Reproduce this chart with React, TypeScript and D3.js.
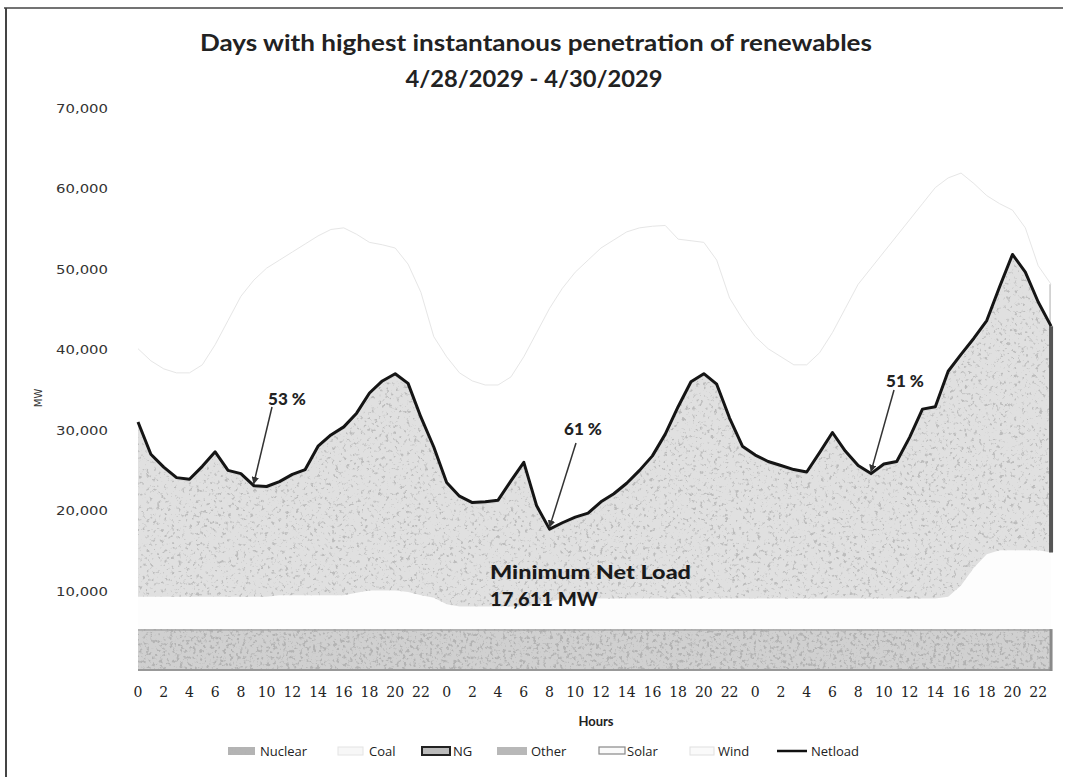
import React from "react";
import * as d3 from "d3";

// ---------- DATA ----------
const hourOfDay = [0, 1, 2, 3, 4, 5, 6, 7, 8, 9, 10, 11, 12, 13, 14, 15, 16, 17, 18, 19, 20, 21, 22, 23];
const days = ["4/28/2029", "4/29/2029", "4/30/2029"];

// Net load (black line), MW
const netloadD1 = [30900, 26900, 25300, 24000, 23800, 25400, 27200, 24900, 24500, 23000, 22900, 23500, 24400, 25000, 27900, 29300, 30300, 32000, 34500, 36000, 36900, 35700, 31500, 27800];
const netloadD2 = [23400, 21700, 20900, 21000, 21200, 23600, 25900, 20500, 17611, 18400, 19100, 19600, 21000, 22000, 23300, 24900, 26700, 29400, 32800, 35900, 36900, 35600, 31400, 27900];
const netloadD3 = [26800, 26000, 25500, 25000, 24700, 27100, 29600, 27300, 25500, 24500, 25700, 26000, 29000, 32500, 32800, 37200, 39300, 41300, 43500, 47700, 51700, 49500, 45800, 42800];

// Nuclear (bottom band)
const nuclearD1 = [5200, 5200, 5200, 5200, 5200, 5200, 5200, 5200, 5200, 5200, 5200, 5200, 5200, 5200, 5200, 5200, 5200, 5200, 5200, 5200, 5200, 5200, 5200, 5200];
const nuclearD2 = [5200, 5200, 5200, 5200, 5200, 5200, 5200, 5200, 5200, 5200, 5200, 5200, 5200, 5200, 5200, 5200, 5200, 5200, 5200, 5200, 5200, 5200, 5200, 5200];
const nuclearD3 = [5200, 5200, 5200, 5200, 5200, 5200, 5200, 5200, 5200, 5200, 5200, 5200, 5200, 5200, 5200, 5200, 5200, 5200, 5200, 5200, 5200, 5200, 5200, 5200];

// Coal (white band above nuclear)
const coalD1 = [4000, 4000, 4000, 4000, 4000, 4000, 4000, 4000, 4000, 4000, 4000, 4200, 4200, 4200, 4200, 4200, 4200, 4500, 4800, 4800, 4800, 4600, 4200, 3900];
const coalD2 = [3100, 2800, 2800, 2800, 2800, 2800, 2800, 3000, 3400, 3800, 3800, 3800, 3800, 3800, 3800, 3800, 3800, 3800, 3800, 3800, 3800, 3800, 3800, 3800];
const coalD3 = [3800, 3800, 3800, 3800, 3800, 3800, 3800, 3800, 3800, 3800, 3800, 3800, 3800, 3800, 3800, 4000, 5400, 7600, 9300, 9800, 9800, 9800, 9800, 9500];

// Other (thin band just under net load)
const otherD1 = [400, 400, 400, 400, 400, 400, 400, 400, 400, 400, 400, 400, 400, 400, 400, 400, 400, 400, 400, 400, 400, 400, 400, 400];
const otherD2 = [400, 400, 400, 400, 400, 400, 400, 400, 400, 400, 400, 400, 400, 400, 400, 400, 400, 400, 400, 400, 400, 400, 400, 400];
const otherD3 = [400, 400, 400, 400, 400, 400, 400, 400, 400, 400, 400, 400, 400, 400, 400, 400, 400, 400, 400, 400, 400, 400, 400, 400];

// Solar (above net load)
const solarD1 = [0, 0, 0, 0, 0, 0, 300, 2500, 6500, 9500, 11500, 12800, 13300, 13400, 13000, 12000, 10000, 7000, 3500, 800, 0, 0, 0, 0];
const solarD2 = [0, 0, 0, 0, 0, 0, 300, 2800, 7000, 10000, 12000, 13000, 13500, 13500, 13200, 12200, 10200, 7200, 3600, 900, 0, 0, 0, 0];
const solarD3 = [0, 0, 0, 0, 0, 0, 200, 2400, 6200, 9000, 11000, 12200, 12800, 12900, 12600, 11600, 9800, 6900, 3400, 800, 0, 0, 0, 0];

// Total stack top (load = net load + solar + wind), faint outline
const totalD1 = [40000, 38500, 37500, 37000, 37000, 38000, 40500, 43500, 46500, 48500, 50000, 51000, 52000, 53000, 54000, 54800, 55000, 54200, 53200, 52900, 52500, 50500, 47000, 41500];
const totalD2 = [39000, 37000, 36000, 35500, 35500, 36500, 39000, 42000, 45000, 47500, 49500, 51000, 52500, 53500, 54500, 55000, 55200, 55300, 53600, 53400, 53200, 51000, 46300, 43700];
const totalD3 = [41500, 40000, 39000, 38000, 38000, 39500, 42000, 45000, 48000, 50000, 52000, 54000, 56000, 58000, 60000, 61200, 61800, 60500, 59000, 58000, 57200, 55000, 50300, 48000];

const xTickLabels = [0, 2, 4, 6, 8, 10, 12, 14, 16, 18, 20, 22];
const yTickValues = [10000, 20000, 30000, 40000, 50000, 60000, 70000];
const legendItems = ["Nuclear", "Coal", "NG", "Other", "Solar", "Wind", "Netload"];

// ---------- BUILD ----------
const netload = [...netloadD1, ...netloadD2, ...netloadD3];
const nuclear = [...nuclearD1, ...nuclearD2, ...nuclearD3];
const coal = [...coalD1, ...coalD2, ...coalD3];
const other = [...otherD1, ...otherD2, ...otherD3];
const solar = [...solarD1, ...solarD2, ...solarD3];
const total = [...totalD1, ...totalD2, ...totalD3];
const categories = days.flatMap((d) => hourOfDay.map((h) => ({ day: d, hour: h })));

const rows = categories.map((c, i) => ({
  i,
  hour: c.hour,
  nucTop: nuclear[i],
  coalTop: nuclear[i] + coal[i],
  ngTop: netload[i] - other[i],
  net: netload[i],
  solarTop: netload[i] + solar[i],
  total: total[i],
}));

const W = 1067;
const H = 777;
const x = d3.scaleLinear().domain([0, 71]).range([138, 138 + 71 * 12.86]);
const y = d3.scaleLinear().domain([0, 70000]).range([671, 107]);

type R = (typeof rows)[number];
const band = (lo: (r: R) => number, hi: (r: R) => number) =>
  d3
    .area<R>()
    .x((r) => x(r.i))
    .y0((r) => y(lo(r)))
    .y1((r) => y(hi(r)))(rows) || "";

const nucPath = band(() => 0, (r) => r.nucTop);
const coalPath = band((r) => r.nucTop, (r) => r.coalTop);
const ngPath = band((r) => r.coalTop, (r) => r.ngTop);
const otherPath = band((r) => r.ngTop, (r) => r.net);
const solarPath = band((r) => r.net, (r) => r.solarTop);
const windPath = band((r) => r.solarTop, (r) => r.total);
const netLine = d3.line<R>().x((r) => x(r.i)).y((r) => y(r.net))(rows) || "";
const totalLine = d3.line<R>().x((r) => x(r.i)).y((r) => y(r.total))(rows) || "";

const fmt = d3.format(",");
const last = rows[rows.length - 1];

const sans = "Lato, 'Open Sans', sans-serif";

export default function App() {
  const annot = [
    { label: "53 %", tx: 287, ty: 398, sx: 272, sy: 407, idx: 9 },
    { label: "61 %", tx: 583, ty: 428, sx: 576, sy: 443, idx: 32 },
    { label: "51 %", tx: 905, ty: 380, sx: 894, sy: 390, idx: 57 },
  ];
  const legendPos = [
    { sx: 228, sw: 27, tx: 260 },
    { sx: 338, sw: 25, tx: 369 },
    { sx: 422, sw: 28, tx: 453 },
    { sx: 497, sw: 30, tx: 531 },
    { sx: 599, sw: 26, tx: 627 },
    { sx: 690, sw: 24, tx: 718 },
    { sx: 777, sw: 30, tx: 811 },
  ];
  const ly = 751;
  return (
    <svg
      width={W}
      height={H}
      viewBox={`0 0 ${W} ${H}`}
      style={{ position: "absolute", left: 0, top: 0, background: "#fff" }}
    >
      <defs>
        <filter id="speckNG" x="0" y="0" width="100%" height="100%">
          <feTurbulence type="fractalNoise" baseFrequency="0.28" numOctaves="3" seed="7" result="n" />
          <feColorMatrix in="n" type="matrix" values="0 0 0 0 0.5  0 0 0 0 0.5  0 0 0 0 0.5  6 0 0 0 -3.5" result="dots" />
          <feComposite in="dots" in2="SourceGraphic" operator="in" result="dc" />
          <feMerge>
            <feMergeNode in="SourceGraphic" />
            <feMergeNode in="dc" />
          </feMerge>
        </filter>
        <filter id="speckNuc" x="0" y="0" width="100%" height="100%">
          <feTurbulence type="fractalNoise" baseFrequency="0.3" numOctaves="3" seed="3" result="n" />
          <feColorMatrix in="n" type="matrix" values="0 0 0 0 0.45  0 0 0 0 0.45  0 0 0 0 0.45  6 0 0 0 -3.2" result="dots" />
          <feComposite in="dots" in2="SourceGraphic" operator="in" result="dc" />
          <feMerge>
            <feMergeNode in="SourceGraphic" />
            <feMergeNode in="dc" />
          </feMerge>
        </filter>
        <marker id="arr" viewBox="0 0 10 10" refX="9" refY="5" markerWidth="5" markerHeight="5" orient="auto">
          <path d="M0,0 L10,5 L0,10 z" fill="#333" />
        </marker>
      </defs>

      {/* frame */}
      <line x1={4} y1={8} x2={1063} y2={8} stroke="#444" strokeWidth={1.5} />
      <line x1={6} y1={8} x2={6} y2={H} stroke="#444" strokeWidth={2} />

      {/* title */}
      <text x={536} y={51} textAnchor="middle" fontFamily={sans} fontWeight={700} fontSize={23} fill="#222" textLength={672} lengthAdjust="spacingAndGlyphs">
        Days with highest instantanous penetration of renewables
      </text>
      <text x={534} y={87} textAnchor="middle" fontFamily={sans} fontWeight={700} fontSize={23} fill="#222" textLength={257} lengthAdjust="spacingAndGlyphs">
        4/28/2029 - 4/30/2029
      </text>

      {/* y axis labels */}
      {yTickValues.map((v) => (
        <text key={v} x={108} y={y(v) + 1} textAnchor="end" dominantBaseline="central" fontFamily="'DejaVu Sans', sans-serif" fontSize={13} fill="#333" textLength={52} lengthAdjust="spacingAndGlyphs">
          {fmt(v)}
        </text>
      ))}
      <text transform="translate(38,398) rotate(-90)" textAnchor="middle" dominantBaseline="central" fontFamily="'DejaVu Sans', sans-serif" fontSize={10} fill="#333">
        MW
      </text>

      {/* areas */}
      <path d={windPath} fill="#fff" stroke="none" />
      <path d={solarPath} fill="#fff" stroke="none" />
      <path d={totalLine} fill="none" stroke="#e6e6e6" strokeWidth={1} />
      <line x1={x(last.i) - 1} x2={x(last.i) - 1} y1={y(last.total)} y2={y(last.net)} stroke="#c8c8c8" strokeWidth={1.5} />
      <path d={coalPath} fill="#fdfdfd" stroke="none" />
      <path d={ngPath} fill="#e0e0e0" filter="url(#speckNG)" />
      <path d={otherPath} fill="#d8d8d8" />
      <path d={nucPath} fill="#d0d0d0" filter="url(#speckNuc)" />
      <path d={band((r) => r.nucTop - 250, (r) => r.nucTop)} fill="#a0a0a0" opacity={0.6} />
      <line x1={x(0)} x2={x(71)} y1={y(0) - 1} y2={y(0) - 1} stroke="#999" strokeWidth={2} />
      <line x1={x(last.i)} x2={x(last.i)} y1={y(last.coalTop)} y2={y(last.net)} stroke="#555" strokeWidth={4} />
      <line x1={x(last.i)} x2={x(last.i)} y1={y(0)} y2={y(last.nucTop)} stroke="#8a8a8a" strokeWidth={3} />

      {/* net load */}
      <path d={netLine} fill="none" stroke="#151515" strokeWidth={3} strokeLinejoin="round" />

      {/* annotations */}
      {annot.map((a) => (
        <g key={a.label}>
          <text x={a.tx} y={a.ty} textAnchor="middle" dominantBaseline="central" fontFamily={sans} fontWeight={900} fontSize={17} fill="#222">
            {a.label}
          </text>
          <line x1={a.sx} y1={a.sy} x2={x(a.idx)} y2={y(netload[a.idx]) - 2} stroke="#333" strokeWidth={1.5} markerEnd="url(#arr)" />
        </g>
      ))}
      <text x={490} y={572} dominantBaseline="central" fontFamily={sans} fontWeight={900} fontSize={18} fill="#1a1a1a" textLength={201} lengthAdjust="spacingAndGlyphs">
        Minimum Net Load
      </text>
      <text x={490} y={599} dominantBaseline="central" fontFamily={sans} fontWeight={900} fontSize={18} fill="#1a1a1a" textLength={108} lengthAdjust="spacingAndGlyphs">
        {`${fmt(17611)} MW`}
      </text>

      {/* x axis labels */}
      {categories.map((c, i) =>
        xTickLabels.includes(c.hour) ? (
          <text key={i} x={x(i)} y={692} textAnchor="middle" dominantBaseline="central" fontFamily="'DejaVu Serif', serif" fontSize={14} fill="#222">
            {c.hour}
          </text>
        ) : null
      )}
      <text x={596} y={721} textAnchor="middle" dominantBaseline="central" fontFamily={sans} fontWeight={700} fontSize={13} fill="#222">
        Hours
      </text>

      {/* legend */}
      {legendItems.map((name, k) => {
        const p = legendPos[k];
        let sw: React.ReactNode = null;
        if (name === "Nuclear") sw = <rect x={p.sx} y={ly - 4} width={p.sw} height={8} fill="#b4b4b4" filter="url(#speckNuc)" />;
        if (name === "Coal") sw = <rect x={p.sx} y={ly - 4} width={p.sw} height={8} fill="#f7f7f7" stroke="#e4e4e4" />;
        if (name === "NG") sw = <rect x={p.sx} y={ly - 4} width={p.sw} height={8} fill="#bbb" stroke="#222" strokeWidth={2} />;
        if (name === "Other") sw = <rect x={p.sx} y={ly - 4} width={p.sw} height={8} fill="#b8b8b8" />;
        if (name === "Solar") sw = <rect x={p.sx} y={ly - 4} width={p.sw} height={7} fill="#fafafa" stroke="#888" strokeWidth={1.2} />;
        if (name === "Wind") sw = <rect x={p.sx} y={ly - 4} width={p.sw} height={8} fill="#fafafa" stroke="#e0e0e0" />;
        if (name === "Netload") sw = <line x1={p.sx} x2={p.sx + p.sw} y1={ly} y2={ly} stroke="#111" strokeWidth={2.5} />;
        return (
          <g key={name}>
            {sw}
            <text x={p.tx} y={ly} dominantBaseline="central" fontFamily="'Open Sans', sans-serif" fontSize={13} fill="#222">
              {name}
            </text>
          </g>
        );
      })}
    </svg>
  );
}
